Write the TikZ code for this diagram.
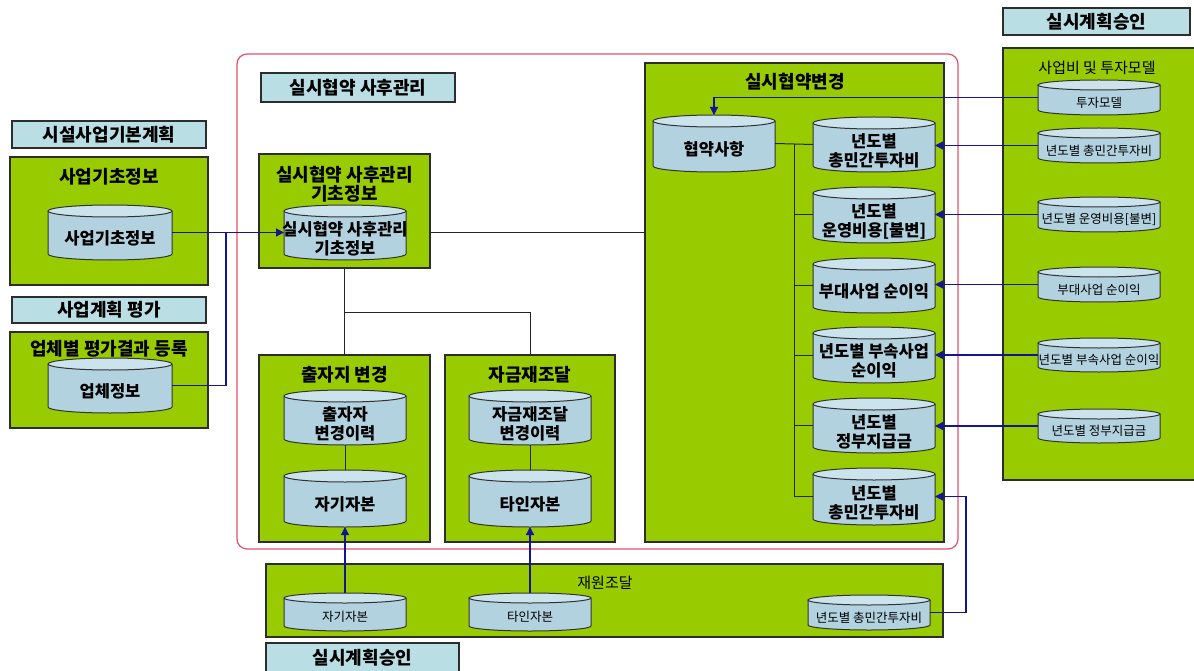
\documentclass[tikz,border=0pt]{standalone}
\usepackage{fontspec}
\newfontfamily\kr{Noto Sans CJK KR}
\usetikzlibrary{arrows.meta}
\definecolor{grn}{RGB}{153,204,0}
\definecolor{boxline}{RGB}{45,45,45}
\definecolor{ttl}{RGB}{185,222,228}
\definecolor{cylTop}{RGB}{202,227,236}
\definecolor{cylB}{RGB}{178,210,224}
\definecolor{cylLine}{RGB}{50,50,50}
\definecolor{blu}{RGB}{20,20,150}
\definecolor{redb}{RGB}{228,80,105}
\tikzset{
  gbox/.style={draw=boxline, fill=grn, line width=1.2pt, inner sep=0pt, outer sep=0pt},
  tbox/.style={draw=boxline, fill=ttl, line width=1.2pt, inner sep=0pt, outer sep=0pt,
               font=\kr\bfseries\fontsize{18}{21}\selectfont},
  redframe/.style={draw=redb, line width=1.2pt, rounded corners=10pt, inner sep=0pt, outer sep=0pt},
  gtitle/.style={font=\kr\bfseries\fontsize{18}{19.5}\selectfont, align=center, inner sep=0pt},
  gsmall/.style={font=\kr\fontsize{15}{17}\selectfont, align=center, inner sep=0pt},
  ctext/.style={font=\kr\bfseries\fontsize{16.5}{19}\selectfont, align=center, inner sep=0pt},
  stext/.style={font=\kr\fontsize{12.5}{14}\selectfont, align=center, inner sep=0pt},
  cylnode/.style={inner sep=0pt, outer sep=0pt},
  cylline/.style={draw=cylLine, line width=1pt},
  conn/.style={draw=black!85, line width=1pt},
  bconn/.style={draw=blu, line width=1.2pt},
  barr/.style={bconn, -{Triangle[length=8pt,width=8pt]}},
}
% name, style, x1, y1, x2, y2, text
\newcommand\rbox[7]{%
  \pgfmathsetmacro\wbx{#5-#3}\pgfmathsetmacro\hbx{#6-#4}%
  \node[#2, minimum width=\wbx pt, minimum height=\hbx pt, anchor=north west] (#1) at (#3,#4) {#7};}
% name, x1, y1, x2, y2, ry, text style, text
\newcommand\cyl[8]{%
  \pgfmathsetmacro\cxa{(#2+#4)/2}%
  \pgfmathsetmacro\cya{(#3+#5)/2}%
  \pgfmathsetmacro\tya{(#3+2*#6+#5)/2}%
  \pgfmathsetmacro\rxa{(#4-#2)/2}%
  \pgfmathsetmacro\wxa{#4-#2}%
  \pgfmathsetmacro\hxa{#5-#3}%
  \pgfmathsetmacro\mta{#3+#6}%
  \pgfmathsetmacro\mba{#5-#6}%
  \pgfmathsetmacro\kxa{0.5523*\rxa}%
  \pgfmathsetmacro\kya{\mba+0.5523*#6}%
  \path[top color=cylB, middle color=white, bottom color=cylB]
    (#2,\mta) -- (#2,\mba) .. controls (#2,\kya) and (\cxa-\kxa,#5) .. (\cxa,#5)
    .. controls (\cxa+\kxa,#5) and (#4,\kya) .. (#4,\mba) -- (#4,\mta) -- cycle;
  \draw[cylline] (#2,\mta) -- (#2,\mba) .. controls (#2,\kya) and (\cxa-\kxa,#5) .. (\cxa,#5)
    .. controls (\cxa+\kxa,#5) and (#4,\kya) .. (#4,\mba) -- (#4,\mta);
  \draw[cylline, fill=cylTop] (\cxa,\mta) ellipse [x radius=\rxa pt, y radius=#6 pt];
  \node[cylnode, minimum width=\wxa pt, minimum height=\hxa pt] (#1) at (\cxa,\cya) {};
  \node[#7] at (\cxa,\tya) {#8};}
\begin{document}
\begin{tikzpicture}[x=1pt,y=-1pt]
\useasboundingbox (0,0) rectangle (1194,671);
\fill[white] (0,0) rectangle (1194,671);
% frame
\rbox{RF}{redframe}{237}{54}{958}{549}{}
% green boxes
\rbox{G1}{gbox}{10}{157}{208}{285}{}
\rbox{G2}{gbox}{10}{332}{208}{428}{}
\rbox{G3}{gbox}{259}{154}{430}{268}{}
\rbox{G4}{gbox}{259}{355}{430}{542}{}
\rbox{G5}{gbox}{445}{355}{615}{542}{}
\rbox{G6}{gbox}{645}{63}{944}{542}{}
\rbox{G7}{gbox}{1003}{48}{1200}{480}{}
\rbox{G8}{gbox}{266}{564}{943}{637}{}
% title boxes
\rbox{T1}{tbox}{12}{121}{206}{148}{시설사업기본계획}
\rbox{T2}{tbox}{12}{297}{206}{323}{사업계획 평가}
\rbox{T3}{tbox}{261}{73}{455}{102}{실시협약 사후관리}
\rbox{T4}{tbox}{1003}{8}{1190}{35}{실시계획승인}
\rbox{T5}{tbox}{266}{643}{459}{672}{실시계획승인}
% green box titles
\node[gtitle] (G1t) at (109,177) {사업기초정보};
\node[gtitle] (G2t) at (109,349) {업체별 평가결과 등록};
\node[gtitle] (G3t) at (344.5,184) {실시협약 사후관리\\기초정보};
\node[gtitle] (G4t) at (344.5,375) {출자지 변경};
\node[gtitle] (G5t) at (530,375) {자금재조달};
\node[gtitle] (G6t) at (795,82) {실시협약변경};
\node[gsmall] (G7t) at (1097,68) {사업비 및 투자모델};
\node[gsmall] (G8t) at (605,583) {재원조달};
% cylinders
\cyl{C1}{48}{205}{172}{260}{6}{ctext}{사업기초정보}
\cyl{C2}{48}{358}{172}{413}{6}{ctext}{업체정보}
\cyl{C3}{284}{205}{406}{260}{6}{ctext}{실시협약 사후관리\\기초정보}
\cyl{C4}{284}{390}{406}{445}{6}{ctext}{출자자\\변경이력}
\cyl{C5}{284}{470}{406}{527}{6}{ctext}{자기자본}
\cyl{C6}{469}{390}{591}{445}{6}{ctext}{자금재조달\\변경이력}
\cyl{C7}{469}{470}{591}{527}{6}{ctext}{타인자본}
\cyl{C8}{653}{115}{775}{172}{6}{ctext}{협약사항}
\cyl{C9}{813}{117}{935}{172}{6}{ctext}{년도별\\총민간투자비}
\cyl{C10}{813}{187}{935}{243}{6}{ctext}{년도별\\운영비용[불변]}
\cyl{C11}{813}{258}{935}{313}{6}{ctext}{부대사업 순이익}
\cyl{C12}{813}{327}{935}{383}{6}{ctext}{년도별 부속사업\\순이익}
\cyl{C13}{813}{398}{935}{453}{6}{ctext}{년도별\\정부지급금}
\cyl{C14}{813}{468}{935}{525}{6}{ctext}{년도별\\총민간투자비}
\cyl{R1}{1038}{80}{1160}{115}{5}{stext}{투자모델}
\cyl{R2}{1038}{128}{1160}{163}{5}{stext}{년도별 총민간투자비}
\cyl{R3}{1038}{197}{1160}{232}{5}{stext}{년도별 운영비용[불변]}
\cyl{R4}{1038}{267}{1160}{302}{5}{stext}{부대사업 순이익}
\cyl{R5}{1038}{338}{1160}{372}{5}{stext}{년도별 부속사업 순이익}
\cyl{R6}{1038}{409}{1160}{443}{5}{stext}{년도별 정부지급금}
\cyl{B1}{284}{593}{406}{631}{5}{stext}{자기자본}
\cyl{B2}{469}{593}{591}{631}{5}{stext}{타인자본}
\cyl{B3}{808}{595}{930}{630}{5}{stext}{년도별 총민간투자비}
% connectors
\coordinate (JL) at (226,232.5);
\coordinate (JM) at (344.5,312);
\coordinate (BUS) at (794,0);
\coordinate (RB) at (966,0);
\draw[barr] (C1.east) -- (C3.west);
\draw[bconn] (C2.east) -| (JL);
\draw[conn] (C3.east -| G3.east) -- (C3.east -| G6.west);
\draw[conn] (G3.south) -- (G4.north);
\draw[conn] (JM) -| (G5.north);
\draw[conn] (C4.south) -- (C5.north);
\draw[conn] (C6.south) -- (C7.north);
\draw[conn] (C8.east) -- (C9.west);
\draw[conn] (BUS |- C9.west) -- (BUS |- C14.west);
\foreach \n in {C10,C11,C12,C13,C14} \draw[conn] (BUS |- \n.west) -- (\n.west);
\draw[barr] (R1.west) -| (C8.north);
\foreach \a/\b in {R2/C9,R3/C10,R4/C11,R5/C12,R6/C13} \draw[barr] (\a.west) -- (\a.west -| \b.east);
\draw[barr] (B3.east) -| (RB |- C14.east) -- (C14.east);
\draw[barr] (B1.north) -- (C5.south);
\draw[barr] (B2.north) -- (C7.south);
\end{tikzpicture}
\end{document}
